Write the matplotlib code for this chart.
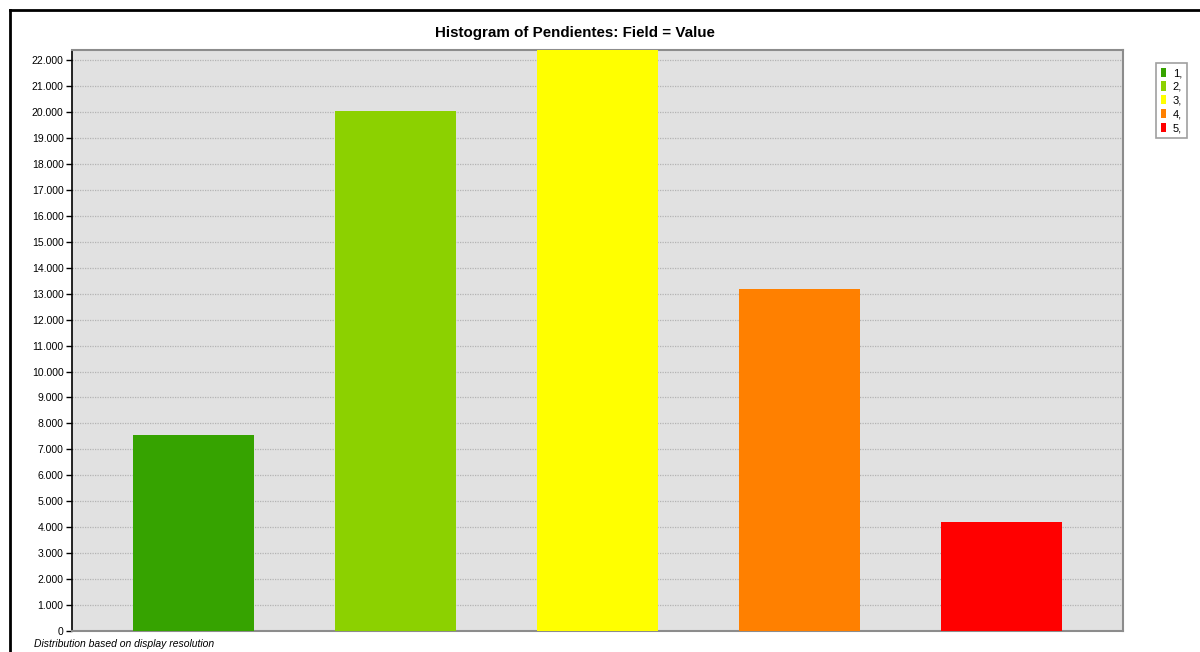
import matplotlib
matplotlib.use('Agg')
import matplotlib.pyplot as plt
import matplotlib.ticker as ticker
from matplotlib.lines import Line2D
from matplotlib.patches import Patch

plt.rcParams['font.family'] = ['Liberation Sans', 'DejaVu Sans']

categories = [1, 2, 3, 4, 5]
counts = [7550, 20040, 24500, 13180, 4200]
colors = ['#36a300', '#8cd100', '#ffff00', '#ff8000', '#ff0000']
legend_labels = ['1,', '2,', '3,', '4,', '5,']

fig = plt.figure(figsize=(12, 6.52), dpi=100)
ax = fig.add_axes([0.06, 0.0322, 0.8758, 0.8911])
ax.set_facecolor('#e1e1e1')

ax.bar(categories, counts, width=0.6, color=colors, zorder=3)
ax.set_xlim(0.4, 5.6)
ax.set_ylim(0, 22390)

ax.yaxis.set_major_locator(ticker.MultipleLocator(1000))
ax.yaxis.set_major_formatter(ticker.FuncFormatter(
    lambda v, p: '0' if v == 0 else '{:,.0f}'.format(v).replace(',', '.')))
ax.tick_params(axis='y', labelsize=7.5, length=4, width=1, color='black', pad=2)
ax.set_xticks([])
ax.grid(axis='y', color='#b4b4b4', linestyle=(0, (1, 1)), linewidth=0.9, zorder=1)

for s in ['top', 'right', 'bottom']:
    ax.spines[s].set_color('#8c8c8c')
    ax.spines[s].set_linewidth(1.5)
ax.spines['left'].set_color('black')
ax.spines['left'].set_linewidth(1.2)

fig.text(0.479, 0.949, 'Histogram of Pendientes: Field = Value',
         ha='center', va='center', fontsize=10.9, fontweight='bold')
fig.text(0.028, 0.013, 'Distribution based on display resolution',
         ha='left', va='center', fontsize=7.5, style='italic')

# outer frame (left and top)
fig.add_artist(Line2D([0.008, 0.008], [0, 0.985], color='black', linewidth=2,
                      transform=fig.transFigure))
fig.add_artist(Line2D([0.008, 1], [0.985, 0.985], color='black', linewidth=2,
                      transform=fig.transFigure))

handles = [Patch(facecolor=c, edgecolor='none') for c in colors]
leg = fig.legend(handles, legend_labels, loc='upper left',
                 bbox_to_anchor=(0.9635, 0.904), fontsize=8,
                 handlelength=0.45, handleheight=0.9, handletextpad=0.6,
                 labelspacing=0.3, borderpad=0.45, borderaxespad=0,
                 fancybox=False, framealpha=1, edgecolor='#a0a0a0')
leg.get_frame().set_linewidth(1.2)

fig.savefig('out.png', dpi=100)
